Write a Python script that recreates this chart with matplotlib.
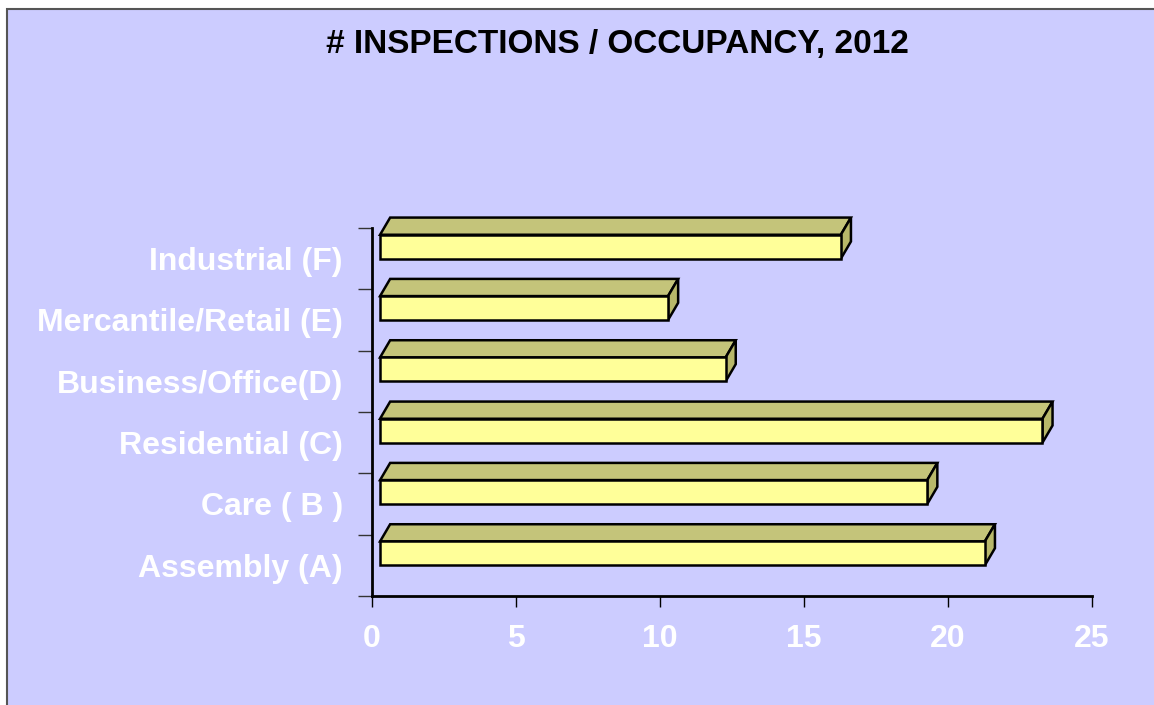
import matplotlib.pyplot as plt
from matplotlib.patches import Polygon, Rectangle

plt.rcParams['font.family'] = ['Liberation Sans', 'DejaVu Sans']

# Data
categories = ['Assembly (A)', 'Care ( B )', 'Residential (C)',
              'Business/Office(D)', 'Mercantile/Retail (E)', 'Industrial (F)']
inspections = [21, 19, 23, 12, 10, 16]
xticks = [0, 5, 10, 15, 20, 25]

front_col = '#FFFF99'
top_col = '#C4C47A'
side_col = '#B8B86A'

fig = plt.figure(figsize=(11.54, 7.05), dpi=100)
fig.patch.set_facecolor('white')
fig.patches.append(Rectangle((7 / 1154, -0.1), 1.2, 1 - 9 / 705 + 0.1,
                             transform=fig.transFigure, facecolor='#CCCCFF',
                             edgecolor='#555555', lw=1.5, zorder=-10))

ax = fig.add_axes([372 / 1154, 1 - 596 / 705, 720 / 1154, 368 / 705])
ax.set_facecolor('none')
ax.set_xlim(0, 25)
ax.set_ylim(-0.5, 5.5)

# 3D look: front face offset, depth offsets (in data units)
x0 = 0.28
h = 0.39
dx = 0.35
dy = 0.28

for i, v in enumerate(inspections):
    ax.barh(i, v, left=x0, height=h, align='edge', color=front_col,
            edgecolor='black', lw=1.8, zorder=3, clip_on=False)
    top = Polygon([(x0, i + h), (x0 + v, i + h), (x0 + v + dx, i + h + dy),
                   (x0 + dx, i + h + dy)], closed=True, facecolor=top_col,
                  edgecolor='black', lw=1.8, zorder=2, clip_on=False)
    side = Polygon([(x0 + v, i), (x0 + v + dx, i + dy), (x0 + v + dx, i + h + dy),
                    (x0 + v, i + h)], closed=True, facecolor=side_col,
                   edgecolor='black', lw=1.8, zorder=2, clip_on=False)
    ax.add_patch(top)
    ax.add_patch(side)

for s in ['top', 'right']:
    ax.spines[s].set_visible(False)
for s in ['left', 'bottom']:
    ax.spines[s].set_linewidth(2)
    ax.spines[s].set_color('black')

ax.set_yticks(range(len(categories)))
ax.set_yticklabels(categories)
ax.set_yticks([i - 0.5 for i in range(len(categories) + 1)], minor=True)
ax.tick_params(axis='y', which='major', length=0, pad=21,
               labelsize=23, labelcolor='white')
ax.tick_params(axis='y', which='minor', length=10, width=1, color='#333333')
for lab in ax.get_yticklabels():
    lab.set_fontweight('bold')

ax.set_xticks(xticks)
ax.set_xticklabels([str(t) for t in xticks])
ax.tick_params(axis='x', length=8, width=1, pad=12, labelsize=23,
               labelcolor='white', direction='out')
for lab in ax.get_xticklabels():
    lab.set_fontweight('bold')

fig.text(617 / 1154, 1 - 44 / 705, '# INSPECTIONS / OCCUPANCY, 2012',
         ha='center', va='center', fontsize=24, fontweight='bold', color='black')

fig.savefig('out.png', dpi=100)
